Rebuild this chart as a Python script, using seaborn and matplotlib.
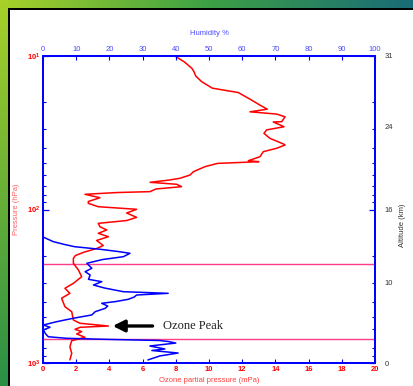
import numpy as np
import matplotlib
matplotlib.use("Agg")
import matplotlib.pyplot as plt
import seaborn as sns
from matplotlib.ticker import LogLocator, FixedLocator, NullLocator, NullFormatter

# ---------------- data ----------------
ozone_pressure_hpa = [10.1, 10.9, 12.0, 12.7, 13.5, 14.7, 16.2, 17.3, 19.1, 20.9, 22.2, 23.1,
                      23.9, 24.9, 26.8, 26.9, 28.9, 30.3, 31.9, 34.4, 37.4, 38.0, 39.9, 42.0,
                      45.3, 48.1, 48.8, 50.1, 52.6, 56.7, 59.6, 62.6, 64.3, 66.5, 68.5, 71.0,
                      73.5, 76.5, 77.5, 79.6, 83.8, 88.7, 91.2, 95.9, 99.7, 105.4, 112.5, 118.0,
                      123.1, 129.5, 136.0, 142.9, 150.4, 159.1, 171.6, 179.6, 189.2, 199.5,
                      208.1, 224.1, 247.6, 274.0, 302.6, 326.1, 351.6, 378.6, 429.6, 463.4,
                      524.8, 551.2, 574.1, 585.4, 603.3, 624.7, 646.8, 680.2, 715.6, 783.4,
                      865.0, 955.0]
ozone_mpa = [8.0, 8.5, 8.96, 9.1, 9.2, 9.56, 10.2, 11.76, 12.47, 13.07, 13.51, 12.47,
             14.08, 14.58, 14.38, 13.87, 14.52, 13.47, 13.31, 13.67, 14.48, 14.58, 14.08, 13.27,
             13.07, 12.37, 13.0, 10.5, 9.76, 9.06, 8.86, 8.25, 7.6, 6.45, 8.05, 8.35,
             6.8, 6.45, 4.5, 2.53, 3.43, 2.73, 2.73, 3.33, 5.64, 5.04, 5.64, 5.04,
             3.33, 3.43, 3.84, 3.33, 3.94, 3.23, 3.63, 3.23, 2.5, 1.95,
             1.83, 1.83, 2.13, 2.33, 1.83, 1.32, 1.62, 1.12, 1.32, 1.73,
             1.83, 2.23, 3.94, 2.23, 1.93, 2.33, 2.03, 2.53, 1.73, 1.62,
             1.73, 1.62]

humidity_pressure_hpa = [151.0, 162.0, 169.0, 174.7, 181.6, 187.7, 192.9, 203.0, 211.7, 224.1,
                         241.5, 254.1, 267.1, 285.0, 295.3, 310.4, 324.6, 343.2, 351.6, 360.6,
                         371.5, 384.6, 397.5, 408.3, 425.6, 440.6, 463.4, 486.4, 511.2, 538.3,
                         565.3, 585.4, 609.5, 646.8, 674.5, 690.4, 701.5, 713.3, 724.4, 741.3,
                         774.8, 810.3, 829.1, 861.0, 899.5, 955.0]
humidity_pct = [0.0, 3.1, 6.5, 9.5, 17.2, 22.5, 26.2, 24.2, 18.0, 13.2,
                14.7, 12.7, 14.2, 13.7, 17.7, 15.2, 18.5, 24.2, 37.7, 28.2,
                27.5, 25.7, 22.0, 17.7, 19.5, 18.7, 15.7, 14.7, 9.1, 4.1,
                0.1, 2.1, 0.1, 0.8, 1.6, 7.1, 19.2, 35.0, 37.7, 40.0,
                32.2, 36.7, 32.8, 40.7, 35.2, 31.6]

altitude_km = [0, 10, 16, 24, 31]
altitude_pressure_hpa = [1000, 301, 100, 28.9, 10]
layer_lines_hpa = [226, 701]
peak_label = "Ozone Peak"
peak_pressure_hpa = 574
peak_arrow_tip_mpa = 4.2
peak_arrow_tail_mpa = 6.6
peak_text_mpa = 7.2

# ---------------- style ----------------
sns.set_theme(style="white")
plt.rcParams["font.family"] = ["Liberation Sans", "DejaVu Sans"]

W, H = 413, 386
fig = plt.figure(figsize=(W / 100, H / 100), dpi=100)
fig.patch.set_facecolor("white")

# decorative framed background (gradient bands + black frame)
img = np.ones((H, W, 3))
xs = np.linspace(0, 1, W)[:, None]
c_left = np.array([0.66, 0.82, 0.16])
c_mid = np.array([0.24, 0.63, 0.27])
c_right = np.array([0.10, 0.42, 0.47])
top_cols = np.where(xs < 0.5, c_left + (c_mid - c_left) * (xs / 0.5),
                    c_mid + (c_right - c_mid) * ((xs - 0.5) / 0.5))
img[0:8, :, :] = top_cols[None, :, :]
ys = np.linspace(0, 1, H)[:, None]
c_bot = np.array([0.16, 0.56, 0.27])
left_cols = c_left + (c_bot - c_left) * ys
img[:, 0:8, :] = left_cols[:, None, :]
img[8:10, 8:, :] = 0.0
img[8:, 8:10, :] = 0.0
bg = fig.add_axes([0, 0, 1, 1])
bg.imshow(img, aspect="auto", interpolation="nearest", extent=(0, W, H, 0))
bg.axis("off")
bg.set_zorder(-10)

BLUE = "#0000ff"
RED = "#ff0000"

ax = fig.add_axes([43 / W, 23 / H, 332 / W, 307 / H])
ax.set_facecolor("white")

# ozone profile (bottom axis)
sns.lineplot(x=ozone_mpa, y=ozone_pressure_hpa, sort=False, estimator=None,
             color=RED, lw=1.1, ax=ax)
ax.set_yscale("log")
ax.set_xlim(0, 20)
ax.set_ylim(1000, 10)

# layer lines
for p in layer_lines_hpa:
    ax.axhline(p, color="#ff3d8b", lw=1.0, zorder=1)

# humidity profile (top axis)
ax_top = ax.twiny()
sns.lineplot(x=humidity_pct, y=humidity_pressure_hpa, sort=False, estimator=None,
             color=BLUE, lw=1.1, ax=ax_top)
ax_top.set_xlim(0, 100)
ax_top.set_ylim(1000, 10)
ax_top.set_ylabel("")

# altitude labels (right axis)
ax_r = ax.twinx()
ax_r.set_yscale("log")
ax_r.set_ylim(1000, 10)
ax_r.yaxis.set_major_locator(FixedLocator(altitude_pressure_hpa))
ax_r.yaxis.set_minor_locator(NullLocator())
ax_r.set_yticklabels([str(a) for a in altitude_km])
ax_r.tick_params(axis="y", length=0, pad=7, labelsize=5.5, labelcolor="#333333")
ax_r.set_ylabel("Altitude (km)", color="#333333", fontsize=5.5, labelpad=8)
ax_r.yaxis.set_label_coords(1.072, 0.45)

# ticks main axis
ax.set_xticks(np.arange(0, 21, 2))
ax.tick_params(axis="x", which="both", bottom=True, top=False, direction="in",
               length=3, width=0.8, color=BLUE, labelsize=5.5, labelcolor=RED, pad=2)
ax.yaxis.set_major_locator(LogLocator(base=10, numticks=5))
ax.yaxis.set_minor_locator(LogLocator(base=10, subs=np.arange(2, 10), numticks=20))
ax.yaxis.set_minor_formatter(NullFormatter())
ax.tick_params(axis="y", which="major", left=True, right=True, direction="in",
               length=4, width=0.9, color=BLUE, labelsize=5.5, labelcolor=RED, pad=2)
ax.tick_params(axis="y", which="minor", left=True, right=True, direction="in",
               length=2, width=0.8, color=BLUE)
for lab in ax.get_xticklabels() + ax.get_yticklabels():
    lab.set_fontweight("bold")

ax_top.set_xticks(np.arange(0, 101, 10))
ax_top.tick_params(axis="x", top=True, bottom=False, direction="in", length=3, width=0.8,
                   color=BLUE, labelsize=5.5, labelcolor="#4c4cff", pad=2)
ax_top.set_xlabel("Humidity %", color="#4c4cff", fontsize=5.5, labelpad=8)

ax.set_xlabel("Ozone partial pressure (mPa)", color="#ff4040", fontsize=5.5, labelpad=3)
ax.set_ylabel("Pressure (hPa)", color="#ff6060", fontsize=5.5, labelpad=5)

for a in (ax, ax_top, ax_r):
    for s in a.spines.values():
        s.set_color(BLUE)
        s.set_linewidth(1.4)

# annotation
ax.annotate("", xy=(peak_arrow_tip_mpa, peak_pressure_hpa),
            xytext=(peak_arrow_tail_mpa, peak_pressure_hpa),
            arrowprops=dict(arrowstyle="-|>,head_length=0.7,head_width=0.35",
                            lw=2.4, color="black", mutation_scale=10,
                            shrinkA=0, shrinkB=0), zorder=5)
ax.text(peak_text_mpa, peak_pressure_hpa, peak_label, family=["Liberation Serif", "DejaVu Serif"],
        fontsize=9, color="#222222", va="center", ha="left", zorder=5)

fig.savefig("out.png", dpi=100)
